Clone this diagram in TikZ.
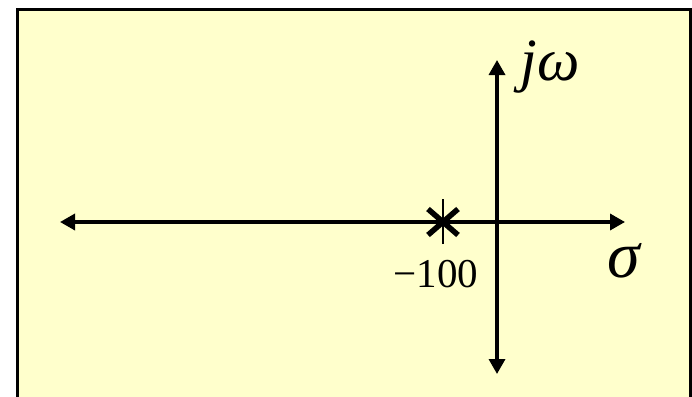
\documentclass[tikz,border=0pt]{standalone}
\usepackage{fontspec}
\setmainfont{Liberation Serif}
\usetikzlibrary{arrows.meta}
\definecolor{bgyellow}{HTML}{FFFFCC}
\begin{document}
\begin{tikzpicture}[x=1pt,y=-1pt,
  axis/.style={line width=3.4pt,{Triangle[length=15pt,width=16pt]}-{Triangle[length=15pt,width=16pt]}},
  lbl/.style={inner sep=0pt,font=\fontsize{41}{41}\selectfont},
  big/.style={inner sep=0pt,font=\fontsize{60}{60}\selectfont}]
\useasboundingbox (0,0) rectangle (692,396);
\begin{scope}
\clip (0,0) rectangle (692,396);
\draw[line width=3pt,fill=bgyellow] (17.5,9.5) rectangle (690.5,410);
\end{scope}
\coordinate (hl) at (60,222);
\coordinate (hr) at (625,222);
\coordinate (vt) at (497,60);
\coordinate (vb) at (497,374);
\draw[axis] (hl) -- (hr);
\draw[axis] (vt) -- (vb);
\coordinate (pole) at (443,222);
\draw[line width=1.3pt] ([yshift=-22]pole) -- ([yshift=23]pole);
\draw[line width=5.5pt] ([shift={(-15,-13)}]pole) -- ([shift={(15,13)}]pole);
\draw[line width=5.5pt] ([shift={(-15,13)}]pole) -- ([shift={(15,-13)}]pole);
\node[lbl] (m100) at (436,274) {−100};
\node[big] (jw) at (550,67) {\textit{jω}};
\node[big,font=\fontsize{66}{66}\selectfont] (sig) at (625,261) {\textit{σ}};
\end{tikzpicture}
\end{document}
